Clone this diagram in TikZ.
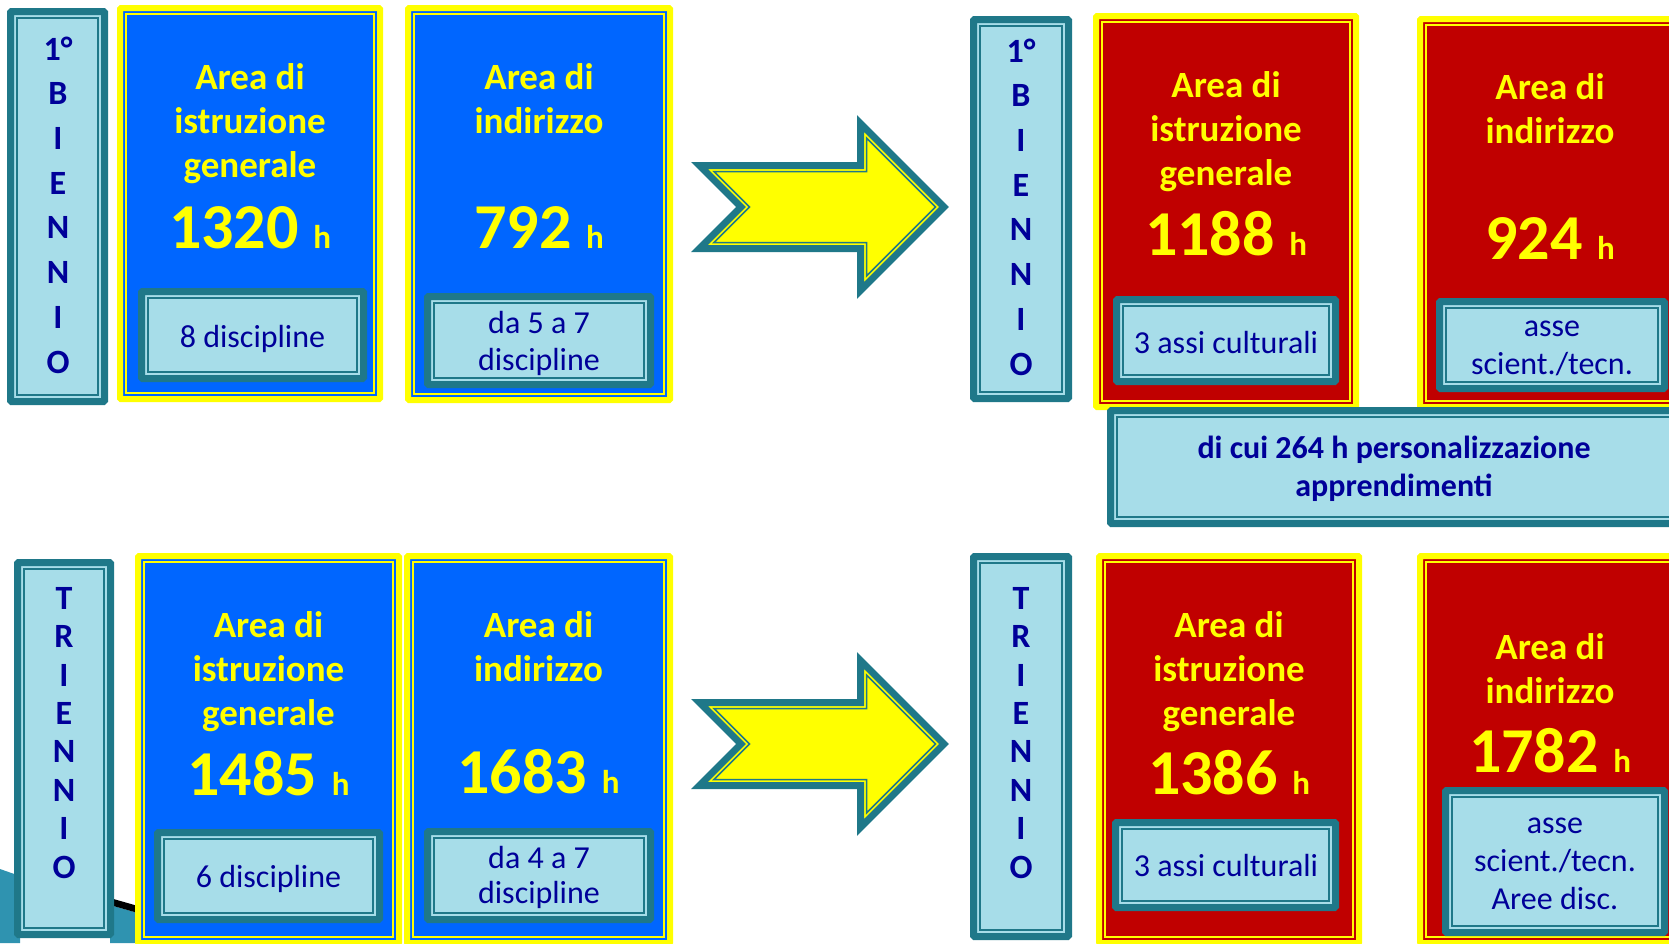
\documentclass[tikz,border=0pt]{standalone}
\usepackage{fontspec}
\setmainfont{Carlito}
\usepackage{xcolor}
\usepackage{tikz}
\definecolor{ylw}{HTML}{FFFF00}
\definecolor{areablue}{HTML}{0066FF}
\definecolor{areared}{HTML}{C00000}
\definecolor{tealc}{HTML}{1F7889}
\definecolor{paleblue}{HTML}{A7DDE9}
\definecolor{navytext}{HTML}{000099}
\definecolor{wavec}{HTML}{2F93B0}
\tikzset{
  areaframe/.style={draw=ylw, line width=3pt, rounded corners=0.5pt},
  arealine/.style={draw=ylw, line width=0.8pt},
  tealframe/.style={draw=tealc, fill=paleblue, line width=3.5pt, rounded corners=0.5pt},
  tealline/.style={draw=tealc, line width=0.85pt},
  arrowframe/.style={draw=tealc, fill=ylw, line width=3.5pt},
  arrowline/.style={draw=tealc, line width=0.75pt},
  titletext/.style={text=ylw, font=\bfseries\fontsize{18.5}{22}\selectfont, align=center, inner sep=0pt, anchor=base},
  hourstext/.style={text=ylw, font=\bfseries\fontsize{32}{32}\selectfont, inner sep=0pt, anchor=base},
  subtext/.style={text=navytext, font=\fontsize{16}{#1}\selectfont, align=center, inner sep=0pt, anchor=base},
  subtext/.default=19,
  lettertext/.style={text=navytext, font=\bfseries\fontsize{17}{#1}\selectfont, align=center, inner sep=0pt, anchor=base},
  notetext/.style={text=navytext, font=\bfseries\fontsize{16}{19}\selectfont, align=center, inner sep=0pt, anchor=base}
}
\newcommand{\hh}{{\fontsize{16.5}{16.5}\selectfont h}}
\begin{document}
\begin{tikzpicture}[x=0.5pt, y=-0.5pt]
\useasboundingbox (0,0) rectangle (1669,943);
\clip (0,0) rectangle (1669,943);
% corner of the slide background
\fill[wavec] (0,869) -- (20,876) -- (20,943) -- (0,943) -- cycle;
\fill[wavec] (110,905) -- (138,913) -- (138,943) -- (110,943) -- cycle;
\fill[black] (110,898) -- (138,906) -- (138,913) -- (110,905) -- cycle;
% primo biennio, prima
\draw[tealframe] (10.5,11.5) rectangle (104.5,401.5);
\draw[tealline] (17,18) rectangle (98,395);
\draw[areaframe, fill=areablue] (120,8) rectangle (380,399);
\draw[arealine] (126,14) rectangle (374,393);
\draw[areaframe, fill=areablue] (408,8) rectangle (670,400);
\draw[arealine] (414,14) rectangle (664,394);
\draw[tealframe] (141.5,291.5) rectangle (363.5,378.5);
\draw[tealline] (148,298) rectangle (357,372);
\draw[tealframe] (427.5,296.5) rectangle (650.5,384.5);
\draw[tealline] (434,303) rectangle (644,378);
% triennio, prima
\draw[tealframe] (17.5,562.5) rectangle (110.5,934.5);
\draw[tealline] (24,569) rectangle (104,928);
\draw[areaframe, fill=areablue] (138,556) rectangle (399,943);
\draw[arealine] (144,562) rectangle (393,937);
\draw[areaframe, fill=areablue] (407,556) rectangle (670,943);
\draw[arealine] (413,562) rectangle (664,937);
\draw[tealframe] (157.5,832.5) rectangle (379.5,919.5);
\draw[tealline] (164,839) rectangle (373,913);
\draw[tealframe] (427.5,831.5) rectangle (650.5,919.5);
\draw[tealline] (434,838) rectangle (644,913);
% frecce
\draw[arrowframe] (699.5,165.5) -- (860.5,165.5) -- (860.5,123.5) -- (944,207) -- (860.5,290.5) -- (860.5,248.5) -- (699.5,248.5) -- (741,207) -- cycle;
\draw[arrowline] (714,171.5) -- (866.5,171.5) -- (866.5,138) -- (935.5,207) -- (866.5,276) -- (866.5,242.5) -- (714,242.5) -- (749.5,207) -- cycle;
\begin{scope}[shift={(0,537)}]
\draw[arrowframe] (699.5,165.5) -- (860.5,165.5) -- (860.5,123.5) -- (944,207) -- (860.5,290.5) -- (860.5,248.5) -- (699.5,248.5) -- (741,207) -- cycle;
\draw[arrowline] (714,171.5) -- (866.5,171.5) -- (866.5,138) -- (935.5,207) -- (866.5,276) -- (866.5,242.5) -- (714,242.5) -- (749.5,207) -- cycle;
\end{scope}
% primo biennio, dopo
\draw[tealframe] (973.5,19.5) rectangle (1068.5,398.5);
\draw[tealline] (980,26) rectangle (1062,392);
\draw[areaframe, fill=areared] (1096,16) rectangle (1356,407);
\draw[arealine] (1102,22) rectangle (1350,401);
\draw[areaframe, fill=areared] (1420,19) rectangle (1680,407);
\draw[arealine] (1426,25) rectangle (1674,401);
\draw[tealframe] (1116.5,299.5) rectangle (1335.5,381.5);
\draw[tealline] (1123,306) rectangle (1329,375);
\draw[tealframe] (1439.5,301.5) rectangle (1664.5,388.5);
\draw[tealline] (1446,308) rectangle (1658,382);
\draw[tealframe] (1110.5,410.5) rectangle (1686.5,523.5);
\draw[tealline] (1117,417) rectangle (1680,517);
% triennio, dopo
\draw[tealframe] (973.5,556.5) rectangle (1068.5,936.5);
\draw[tealline] (980,563) rectangle (1062,930);
\draw[areaframe, fill=areared] (1099,556) rectangle (1359,943);
\draw[arealine] (1105,562) rectangle (1353,937);
\draw[areaframe, fill=areared] (1420,556) rectangle (1680,943);
\draw[arealine] (1426,562) rectangle (1674,937);
\draw[tealframe] (1115.5,822.5) rectangle (1335.5,907.5);
\draw[tealline] (1122,829) rectangle (1329,901);
\draw[tealframe] (1445.5,790.5) rectangle (1664.5,932.5);
\draw[tealline] (1452,797) rectangle (1658,926);
% testi (anchor base = ultima riga)
\node[lettertext=22.35] (bienn1) at (58,373) {1°\\B\\I\\E\\N\\N\\I\\O};
\node[lettertext=22.35] (bienn2) at (1021,375) {1°\\B\\I\\E\\N\\N\\I\\O};
\node[lettertext=19.2] (trienn1) at (64,878) {T\\R\\I\\E\\N\\N\\I\\O};
\node[lettertext=19.2] (trienn2) at (1021,878) {T\\R\\I\\E\\N\\N\\I\\O};
\node[titletext] (genB1) at (250,177) {Area di\\istruzione\\generale};
\node[hourstext] (genB1h) at (250,248) {1320 \hh};
\node[subtext] (genB1d) at (252.5,347) {8 discipline};
\node[titletext] (indB1) at (539,133) {Area di\\indirizzo};
\node[hourstext] (indB1h) at (539,248) {792 \hh};
\node[subtext=18.5] (indB1d) at (539,370) {da 5 a 7\\discipline};
\node[titletext] (genB2) at (1226,185) {Area di\\istruzione\\generale};
\node[hourstext] (genB2h) at (1226,255) {1188 \hh};
\node[subtext] (genB2d) at (1226,353) {3 assi culturali};
\node[titletext] (indB2) at (1550,143) {Area di\\indirizzo};
\node[hourstext] (indB2h) at (1550,259) {924 \hh};
\node[subtext] (indB2d) at (1552,374) {asse\\scient./tecn.};
\node[notetext] (persnote) at (1394,496) {di cui 264 h personalizzazione\\apprendimenti};
\node[titletext] (genT1) at (268.5,725) {Area di\\istruzione\\generale};
\node[hourstext] (genT1h) at (268.5,795) {1485 \hh};
\node[subtext] (genT1d) at (268.5,887) {6 discipline};
\node[titletext] (indT1) at (538.5,681) {Area di\\indirizzo};
\node[hourstext] (indT1h) at (538.5,793) {1683 \hh};
\node[subtext=17.5] (indT1d) at (539,903) {da 4 a 7\\discipline};
\node[titletext] (genT2) at (1229,725) {Area di\\istruzione\\generale};
\node[hourstext] (genT2h) at (1229,794) {1386 \hh};
\node[subtext] (genT2d) at (1226,876) {3 assi culturali};
\node[titletext] (indT2) at (1550,703) {Area di\\indirizzo};
\node[hourstext] (indT2h) at (1550,772) {1782 \hh};
\node[subtext] (indT2d) at (1555,909) {asse\\scient./tecn.\\Aree disc.};
\end{tikzpicture}
\end{document}
